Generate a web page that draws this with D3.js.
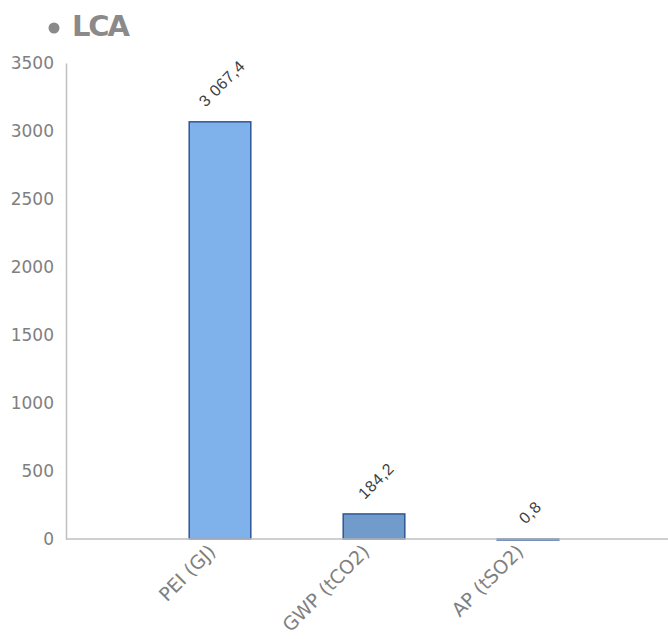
<!DOCTYPE html>
<html>
<head>
<meta charset="utf-8">
<script src="https://cdn.jsdelivr.net/npm/d3@7"></script>
<style>
  html, body { margin: 0; padding: 0; background: #fff; }
  svg { display: block; font-family: "DejaVu Sans", Verdana, sans-serif; }
</style>
</head>
<body>
<svg id="chart" width="668" height="639"></svg>
<script>
// LCA indicators
const categories = ["PEI (GJ)", "GWP (tCO2)", "AP (tSO2)"];
const values = [3067.4, 184.2, 0.8];
const valueLabels = ["3 067,4", "184,2", "0,8"];
const yTicks = [0, 500, 1000, 1500, 2000, 2500, 3000, 3500];
const barColors = ["#7fb1eb", "#719bcb", "#2f5597"];

const svg = d3.select("#chart");
const plot = { left: 66, right: 668, top: 63, bottom: 539 };

const y = d3.scaleLinear().domain([0, 3500]).range([plot.bottom, plot.top]);
const x = d3.scaleBand()
  .domain(categories)
  .range([143, 605])
  .paddingInner(0.6)
  .paddingOuter(0.3);

// title
const title = svg.append("g");
title.append("circle").attr("cx", 54).attr("cy", 28).attr("r", 5.5).attr("fill", "#8a8a8a");
title.append("text")
  .attr("x", 72).attr("y", 36)
  .attr("font-size", 29).attr("font-weight", "bold")
  .attr("fill", "#8a8a8a")
  .attr("textLength", 58)
  .text("LCA");

// y axis
const yAxis = svg.append("g")
  .attr("transform", `translate(${plot.left},0)`)
  .call(d3.axisLeft(y).tickValues(yTicks).tickSize(0).tickPadding(12).tickFormat(d3.format("d")));
yAxis.select(".domain").attr("stroke", "#bfbfbf").attr("stroke-width", 1.5);
yAxis.selectAll("text").attr("fill", "#808080").attr("font-size", 17)
  .attr("font-family", "\"DejaVu Sans\", sans-serif");

// bars
svg.append("g").selectAll("rect")
  .data(values)
  .join("rect")
  .attr("x", (d, i) => x(categories[i]))
  .attr("width", x.bandwidth())
  .attr("y", d => y(d))
  .attr("height", d => Math.max(1, y(0) - y(d)))
  .attr("fill", (d, i) => barColors[i])
  .attr("stroke", "#2f5597")
  .attr("stroke-width", 1.5);

// x axis
const xAxis = svg.append("g")
  .attr("transform", `translate(0,${plot.bottom})`);
xAxis.append("line")
  .attr("x1", plot.left).attr("x2", plot.right)
  .attr("stroke", "#bfbfbf").attr("stroke-width", 1.5);
xAxis.selectAll("text")
  .data(categories)
  .join("text")
  .attr("transform", d => `translate(${x(d) + x.bandwidth() / 2 - 8},${9}) rotate(-45)`)
  .attr("text-anchor", "end")
  .attr("dy", "0.35em")
  .attr("font-size", 19)
  .attr("fill", "#808080")
  .text(d => d);

// value labels
svg.append("g").selectAll("text")
  .data(values)
  .join("text")
  .attr("font-family", "\"Liberation Sans\", Arial, sans-serif")
  .attr("font-size", 16)
  .attr("letter-spacing", 0.6)
  .attr("fill", "#404040")
  .attr("text-anchor", "middle")
  .attr("dy", "0.35em")
  .text((d, i) => valueLabels[i])
  .each(function (d, i) {
    const w = this.getComputedTextLength();
    const off = 18 + w * Math.SQRT1_2 / 2;
    const cx = x(categories[i]) + x.bandwidth() / 2 + 2;
    d3.select(this).attr("transform", `translate(${cx},${y(d) - off}) rotate(-45)`);
  });
</script>
</body>
</html>
